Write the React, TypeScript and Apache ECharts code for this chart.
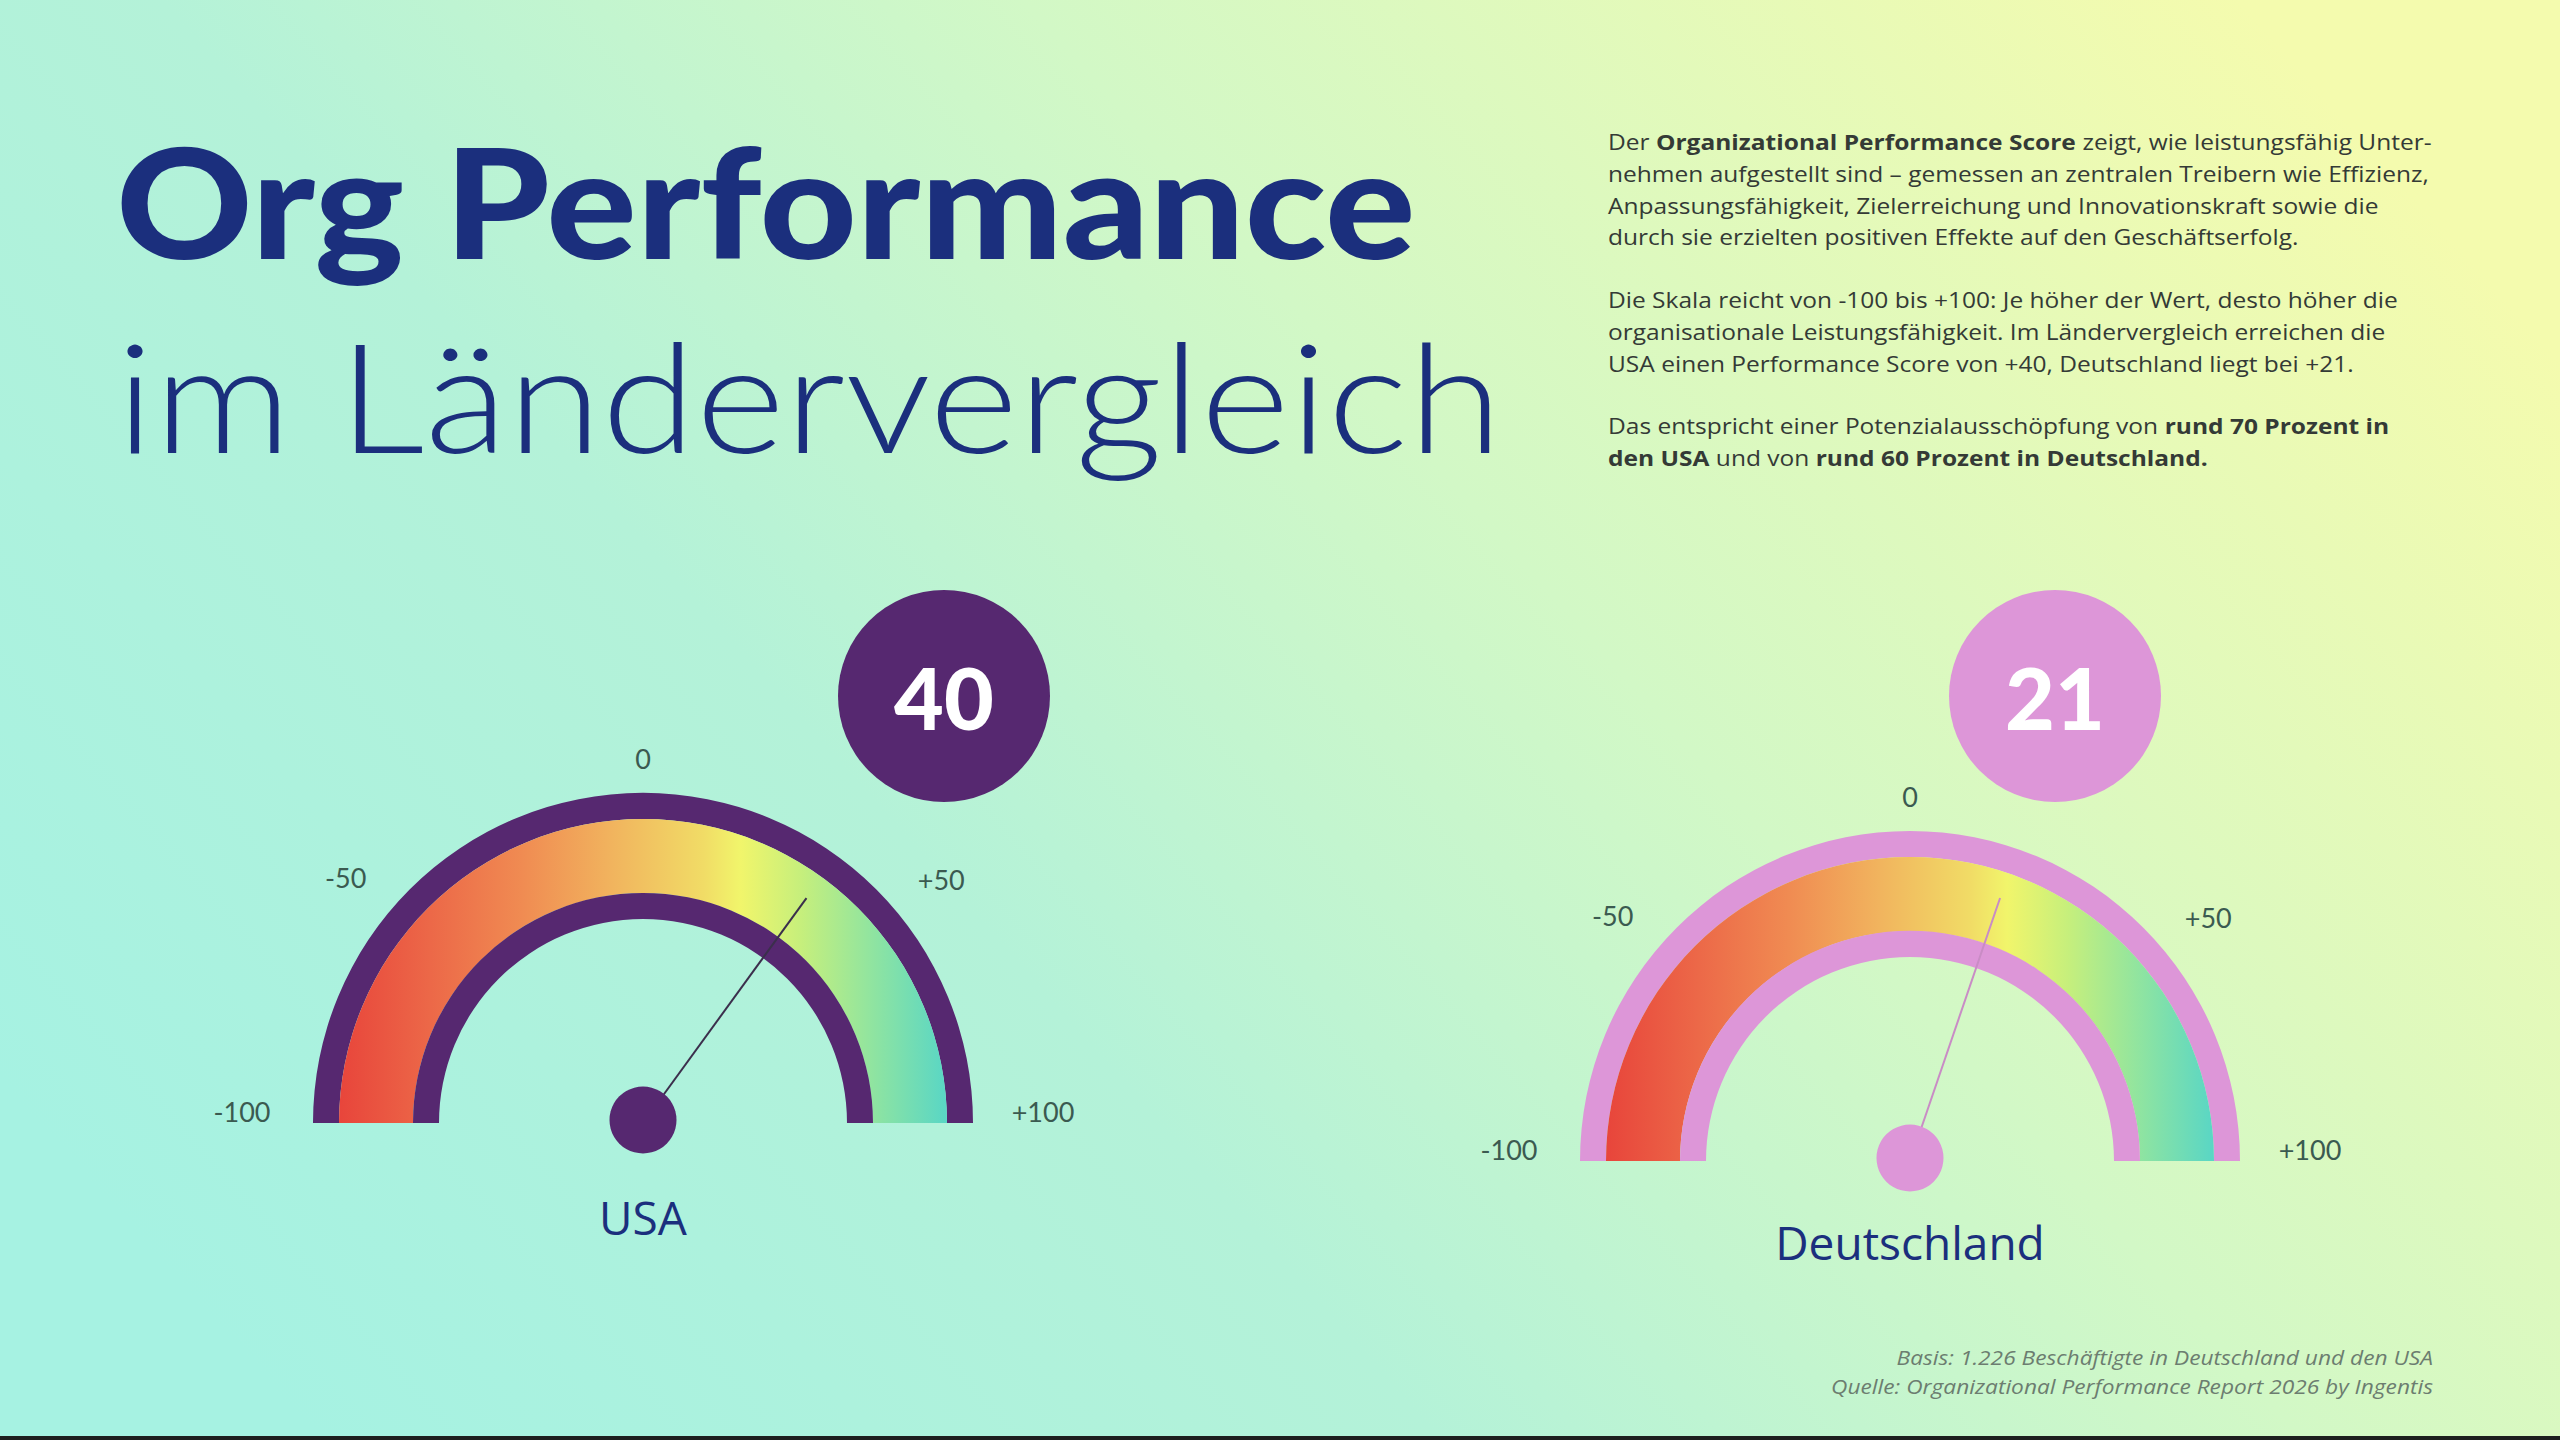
import React, { useEffect, useRef } from "react";
import * as echarts from "echarts";

// ---------- data ----------
const countries = ["USA", "Deutschland"];
const scores = [40, 21];
const scaleMin = -100;
const scaleMax = 100;
const tickLabels = ["-100", "-50", "0", "+50", "+100"];
const ringColors = ["#562870", "#dd96d8"];
const needleColors = ["#3b2f4c", "#c98cc5"];
const bandStopOffsets = [0, 0.15, 0.3, 0.45, 0.6, 0.66, 0.76, 0.87, 1];
const bandStopColors = ["#e8453b", "#ec6848", "#f08b52", "#f1b45e", "#f1dc66", "#f1f56b", "#c6ef7c", "#93e59e", "#59d6c5"];

const titleLine1 = "Org Performance";
const titleLine2 = "im Ländervergleich";
const para1 = [
  "Der {b|Organizational Performance Score} zeigt, wie leistungsfähig Unter-",
  "nehmen aufgestellt sind – gemessen an zentralen Treibern wie Effizienz,",
  "Anpassungsfähigkeit, Zielerreichung und Innovationskraft sowie die",
  "durch sie erzielten positiven Effekte auf den Geschäftserfolg.",
];
const para2 = [
  "Die Skala reicht von -100 bis +100: Je höher der Wert, desto höher die",
  "organisationale Leistungsfähigkeit. Im Ländervergleich erreichen die",
  "USA einen Performance Score von +40, Deutschland liegt bei +21.",
];
const para3 = [
  "Das entspricht einer Potenzialausschöpfung von {b|rund 70 Prozent in}",
  "{b|den USA} und von {b|rund 60 Prozent in Deutschland.}",
];
const footerLines = [
  "Basis: 1.226 Beschäftigte in Deutschland und den USA",
  "Quelle: Organizational Performance Report 2026 by Ingentis",
];

// ---------- layout / style ----------
const W = 2560;
const H = 1440;
const NAVY = "#1b2f7d";
const TICK = "#3b5a50";
const layout = [
  { cx: 643, cy: 1123, detail: [301, -427], title: [0, 94] },
  { cx: 1910, cy: 1161, detail: [145, -465], title: [0, 81] },
];
const R_OUT = 330;
const RING_W = 26;
const BAND_R = 304;
const BAND_W = 74;
const INNER_R = 230;

const tickRich: Record<string, any> = {
  t0: { padding: [0, 32, 24, 0] },
  t1: { padding: [54, 50, 0, 0] },
  t2: { padding: [40, 0, 0, 0] },
  t3: { padding: [58, 0, 0, 52] },
  t4: { padding: [0, 0, 24, 30] },
};
Object.keys(tickRich).forEach((k) => {
  tickRich[k] = { ...tickRich[k], fontSize: 27, fontFamily: "Lato", color: TICK };
});

function bandGradient() {
  return new echarts.graphic.LinearGradient(
    0, 0, 1, 0,
    bandStopOffsets.map((o, i) => ({ offset: o, color: bandStopColors[i] }))
  );
}

function ringSeries(idx: number, radius: number, width: number, color: any) {
  const l = layout[idx];
  return {
    type: "gauge",
    center: [l.cx, l.cy],
    radius,
    startAngle: 180,
    endAngle: 0,
    min: scaleMin,
    max: scaleMax,
    z: 2,
    axisLine: { show: true, lineStyle: { width, color: [[1, color]] } },
    axisTick: { show: false },
    splitLine: { show: false },
    axisLabel: { show: false },
    pointer: { show: false },
    anchor: { show: false },
    progress: { show: false },
    title: { show: false },
    detail: { show: false },
    data: [{ value: scores[idx], name: countries[idx] }],
  };
}

function valueSeries(idx: number) {
  const l = layout[idx];
  return {
    type: "gauge",
    center: [l.cx, l.cy],
    radius: R_OUT,
    startAngle: 180,
    endAngle: 0,
    min: scaleMin,
    max: scaleMax,
    splitNumber: tickLabels.length - 1,
    z: 5,
    axisLine: { show: false },
    axisTick: { show: false },
    splitLine: { show: false, length: 0, distance: 0 },
    axisLabel: {
      show: true,
      distance: -55,
      rotate: 0.0001,
      color: TICK,
      fontSize: 27,
      fontFamily: "Lato",
      formatter: (v: number) => {
        const i = Math.round(((v - scaleMin) / (scaleMax - scaleMin)) * (tickLabels.length - 1));
        return `{t${i}|${tickLabels[i]}}`;
      },
      rich: tickRich,
    },
    progress: { show: false },
    pointer: {
      show: true,
      icon: "rect",
      length: 278,
      width: 2,
      itemStyle: { color: needleColors[idx] },
    },
    anchor: {
      show: true,
      showAbove: true,
      size: 67,
      offsetCenter: [0, -3],
      itemStyle: { color: ringColors[idx] },
    },
    title: {
      show: true,
      offsetCenter: l.title,
      fontSize: 46,
      fontWeight: 500,
      fontFamily: "Open Sans",
      color: NAVY,
    },
    detail: {
      show: true,
      offsetCenter: l.detail,
      width: 212,
      height: 212,
      lineHeight: 212,
      padding: 0,
      borderRadius: 106,
      backgroundColor: ringColors[idx],
      color: "#ffffff",
      fontSize: 86,
      fontWeight: 900,
      fontFamily: "Lato",
      formatter: "{value}",
    },
    data: [{ value: scores[idx], name: countries[idx] }],
  };
}

function paragraph(lines: string[], yCenterFirst: number) {
  const lh = 31.6;
  return {
    type: "text",
    x: 1608,
    y: yCenterFirst - lh / 2,
    scaleX: 1.115,
    silent: true,
    style: {
      text: lines.join("\n"),
      fill: "#343a36",
      fontFamily: "Open Sans",
      fontSize: 22,
      lineHeight: lh,
      align: "left",
      verticalAlign: "top",
      rich: {
        b: { fontFamily: "Open Sans", fontSize: 22, fontWeight: 700, color: "#1c2220", lineHeight: lh },
      },
    },
  };
}

export default function App() {
  const ref = useRef<HTMLDivElement>(null);
  useEffect(() => {
    if (!ref.current) return;
    const chart = echarts.init(ref.current, null, { renderer: "svg", width: W, height: H });
    const series: any[] = [];
    countries.forEach((_, i) => {
      series.push(ringSeries(i, R_OUT, RING_W, ringColors[i]));
      series.push(ringSeries(i, BAND_R, BAND_W, bandGradient()));
      series.push(ringSeries(i, INNER_R, RING_W, ringColors[i]));
      series.push(valueSeries(i));
    });
    const option: any = {
      animation: false,
      graphic: [
        {
          type: "rect",
          z: -100,
          silent: true,
          shape: { x: 0, y: 0, width: W, height: H },
          style: {
            fill: new echarts.graphic.LinearGradient(0, 0.75, 1, 0.25, [
              { offset: 0, color: "#a6f2e2" },
              { offset: 0.35, color: "#b4f2d8" },
              { offset: 0.62, color: "#d2f8c6" },
              { offset: 1, color: "#f4fbae" },
            ]),
          },
        },
        {
          type: "rect",
          z: -90,
          silent: true,
          shape: { x: 0, y: H - 4, width: W, height: 4 },
          style: { fill: "#1d1f1e" },
        },
        {
          type: "text",
          x: 116,
          y: 200,
          scaleX: 1.11,
          silent: true,
          style: {
            text: titleLine1,
            fill: NAVY,
            fontFamily: "Lato",
            fontWeight: 900,
            fontSize: 152,
            align: "left",
            verticalAlign: "middle",
          },
        },
        {
          type: "text",
          x: 116,
          y: 394,
          scaleX: 1.125,
          silent: true,
          style: {
            text: titleLine2,
            fill: NAVY,
            fontFamily: "Lato",
            fontWeight: 300,
            fontSize: 152,
            align: "left",
            verticalAlign: "middle",
          },
        },
        paragraph(para1, 142),
        paragraph(para2, 300),
        paragraph(para3, 426),
        {
          type: "text",
          x: 2433,
          y: 1343,
          scaleX: 1.136,
          silent: true,
          style: {
            text: footerLines.join("\n"),
            fill: "#6c7d70",
            fontFamily: "Open Sans",
            fontStyle: "italic",
            fontSize: 20,
            lineHeight: 28.5,
            align: "right",
            verticalAlign: "top",
          },
        },
      ],
      series,
    };
    chart.setOption(option);
    return () => chart.dispose();
  }, []);
  return (
    <div
      ref={ref}
      style={{ position: "absolute", left: 0, top: 0, width: W, height: H }}
    />
  );
}
